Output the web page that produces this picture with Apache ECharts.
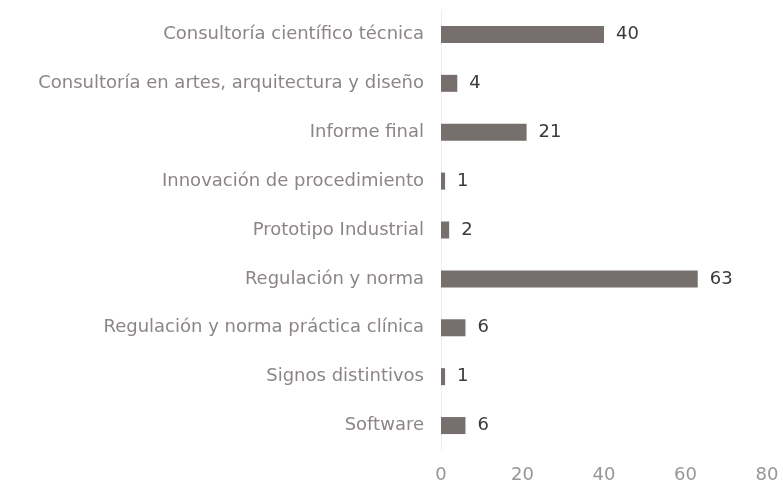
<!DOCTYPE html>
<html>
<head>
<meta charset="utf-8">
<script src="https://cdn.jsdelivr.net/npm/echarts@6/dist/echarts.min.js"></script>
<style>
  html, body { margin: 0; padding: 0; background: #fff; }
  #main { width: 783px; height: 490px; }
</style>
</head>
<body>
<div id="main"></div>
<script>
  var categories = [
    'Consultoría científico técnica',
    'Consultoría en artes, arquitectura y diseño',
    'Informe final',
    'Innovación de procedimiento',
    'Prototipo Industrial',
    'Regulación y norma',
    'Regulación y norma práctica clínica',
    'Signos distintivos',
    'Software'
  ];
  var values = [40, 4, 21, 1, 2, 63, 6, 1, 6];
  var xTicks = [0, 20, 40, 60, 80];

  var myChart = echarts.init(document.getElementById('main'));
  var font = '"DejaVu Sans", sans-serif';

  var option = {
    animation: false,
    grid: {
      left: 441,
      right: 16,
      top: 10,
      bottom: 40,
      containLabel: false
    },
    xAxis: {
      type: 'value',
      min: xTicks[0],
      max: xTicks[xTicks.length - 1],
      interval: 20,
      splitLine: { show: false },
      axisLine: { show: false },
      axisTick: { show: false },
      axisLabel: {
        color: '#9a9595',
        fontSize: 18,
        fontFamily: font,
        margin: 16
      }
    },
    yAxis: {
      type: 'category',
      inverse: true,
      data: categories,
      axisLine: { show: true, lineStyle: { color: '#eeeeee', width: 1 } },
      axisTick: { show: false },
      axisLabel: {
        color: '#8c8585',
        fontSize: 18,
        fontFamily: font,
        margin: 17
      }
    },
    series: [{
      type: 'bar',
      data: values,
      barWidth: 17,
      itemStyle: { color: '#776e6e' },
      label: {
        show: true,
        position: 'right',
        distance: 12,
        color: '#3a3a3a',
        fontSize: 18,
        fontFamily: font
      }
    }]
  };

  myChart.setOption(option);
</script>
</body>
</html>
